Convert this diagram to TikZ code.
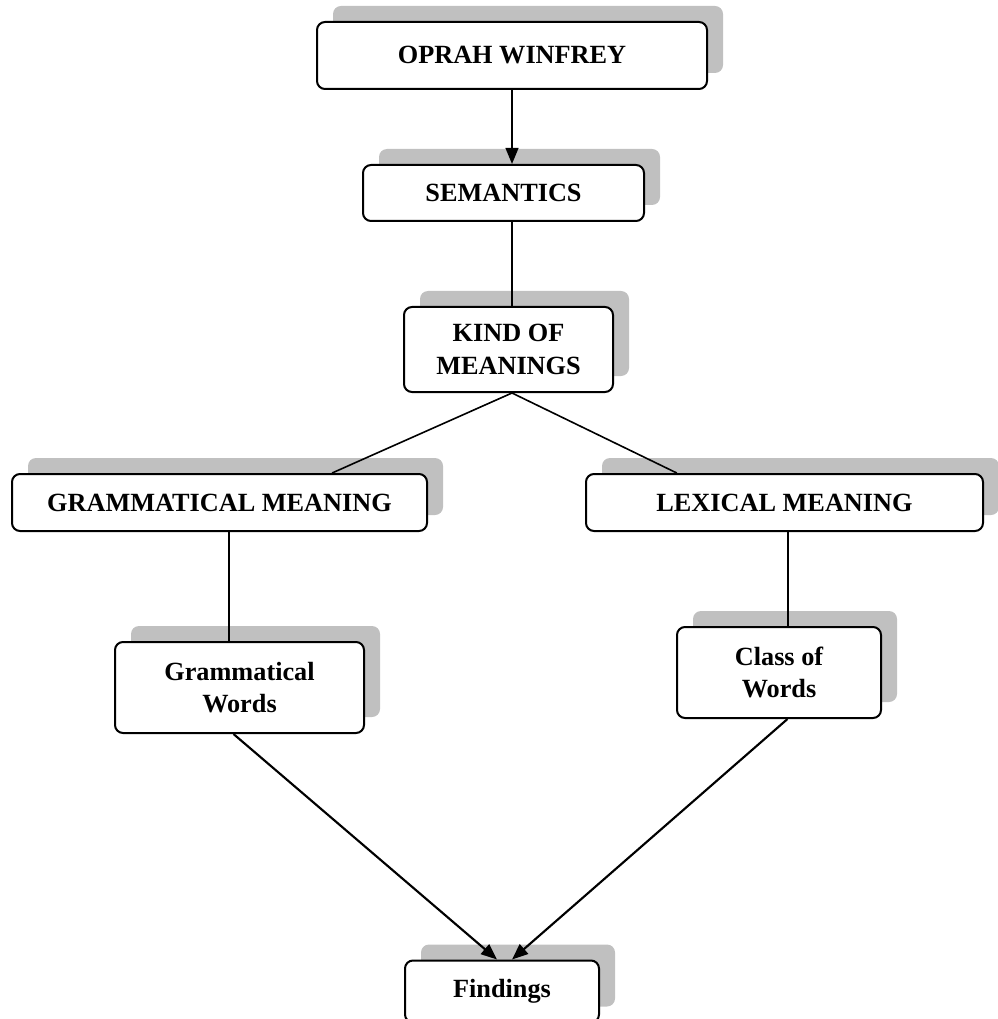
\documentclass[tikz,border=0pt]{standalone}
\usepackage{fontspec}
\setmainfont{Liberation Serif}
\usepackage{xcolor}
\usepackage{tikz}
\usetikzlibrary{arrows.meta,calc,shadows}

\definecolor{shadowgray}{RGB}{192,192,192}

\tikzset{
	box/.style={draw, line width=1.5pt, rounded corners=6pt, fill=white, inner sep=0pt,
		align=center, font=\fontsize{19.7}{24.5}\selectfont\bfseries,
		general shadow={fill=shadowgray, shadow xshift=12pt, shadow yshift=12pt}},
	link/.style={line width=1.2pt},
	flow/.style={line width=1.6pt, ->}
}

\begin{document}
\begin{tikzpicture}[x=0.75pt, y=-0.75pt, >={Triangle[length=12pt,width=9.5pt]}]
	\useasboundingbox (0,0) rectangle (997,1019);

	\node[box, minimum width=292.5pt, minimum height=50.25pt] (oprah) at (512,55.5) {OPRAH WINFREY};
	\node[box, minimum width=210.75pt, minimum height=42pt] (sem) at (503.5,193) {SEMANTICS};
	\node[box, minimum width=156.75pt, minimum height=63.75pt] (kind) at (508.5,349.5) {KIND OF\\MEANINGS};
	\node[box, minimum width=311.25pt, minimum height=42.75pt] (gram) at (219.5,502.5) {GRAMMATICAL MEANING};
	\node[box, minimum width=297.75pt, minimum height=42.75pt] (lex) at (784.5,502.5) {LEXICAL MEANING};
	\node[box, minimum width=186.75pt, minimum height=68.25pt] (gwords) at (239.5,687.5) {Grammatical\\Words};
	\node[box, minimum width=153pt, minimum height=68.25pt] (cwords) at (779,672.5) {Class of\\Words};
	\node[box, minimum width=145.5pt, minimum height=46.5pt] (find) at (502,991.5) {Findings};

	\draw[flow] (oprah.south) -- (oprah.south |- sem.north);
	\draw[link] ($(sem.south)+(8.5,0)$) -- ($(kind.north)+(3.5,0)$);
	\draw[link] ($(kind.south)+(3.5,0)$) -- ($(gram.north west)!0.77!(gram.north east)$);
	\draw[link] ($(kind.south)+(3.5,0)$) -- ($(lex.north west)!0.23!(lex.north east)$);
	\draw[link] ($(gram.south)+(9.5,0)$) -- ($(gwords.north)+(-10.5,0)$);
	\draw[link] ($(lex.south)+(3.5,0)$) -- ($(cwords.north)+(9,0)$);
	\draw[flow] ($(gwords.south)+(-6,0)$) -- ($(find.north)+(-5,0)$);
	\draw[flow] ($(cwords.south)+(8.5,0)$) -- ($(find.north)+(10,0)$);
\end{tikzpicture}
\end{document}
